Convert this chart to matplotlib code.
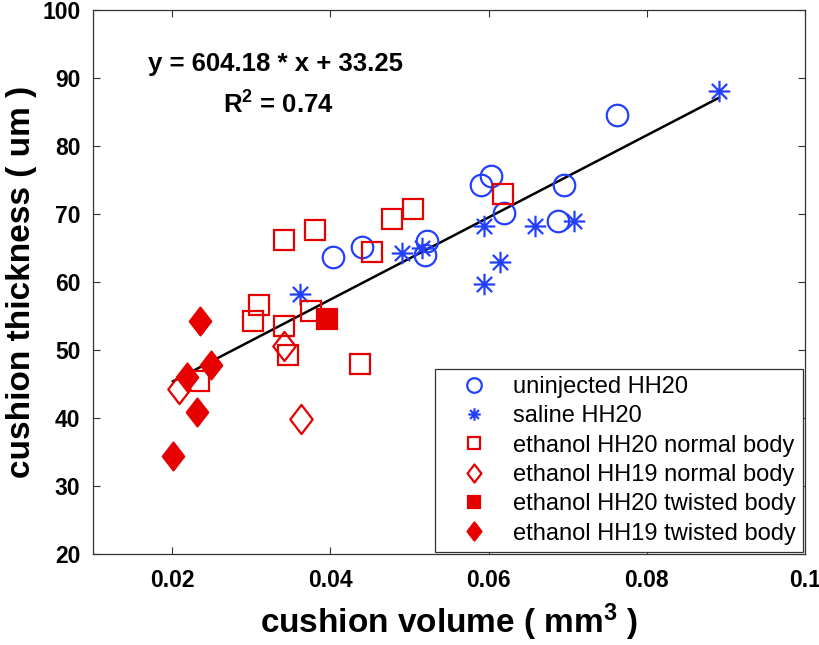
import matplotlib

matplotlib.use('Agg')
import matplotlib.pyplot as plt
import numpy as np
from matplotlib.lines import Line2D
from matplotlib.path import Path

# values
uninj_x = [0.0403, 0.0440, 0.0522, 0.0520, 0.0590, 0.0603, 0.0620, 0.0688, 0.0695, 0.0762]
uninj_y = [63.7, 65.2, 66.1, 63.9, 74.3, 75.6, 70.1, 68.9, 74.2, 84.5]

saline_x = [0.0362, 0.0490, 0.0516, 0.0594, 0.0594, 0.0614, 0.0658, 0.0708, 0.0891]
saline_y = [58.2, 64.2, 65.0, 68.2, 59.7, 62.9, 68.2, 68.9, 88.1]

eth20n_x = [0.0234, 0.0302, 0.0310, 0.0341, 0.0342, 0.0347, 0.0375, 0.0381,
            0.0437, 0.0452, 0.0478, 0.0504, 0.0618]
eth20n_y = [45.5, 54.3, 56.6, 53.5, 66.2, 49.3, 55.8, 67.6, 48.0, 64.4, 69.3, 70.7, 72.9]

eth19n_x = [0.0209, 0.0341, 0.0363]
eth19n_y = [44.3, 50.6, 39.9]

eth20t_x = [0.0396]
eth20t_y = [54.5]

eth19t_x = [0.0201, 0.0219, 0.0232, 0.0235, 0.0249]
eth19t_y = [34.4, 46.0, 40.9, 54.3, 47.8]

SLOPE, INTERCEPT = 604.18, 33.25
R2 = 0.74

BLUE = '#2340ff'
RED = '#e60000'
INK = '#333333'

plt.rcParams['font.family'] = ['Liberation Sans', 'DejaVu Sans']
plt.rcParams['mathtext.fontset'] = 'custom'
plt.rcParams['mathtext.rm'] = 'Liberation Sans:bold'
plt.rcParams['mathtext.it'] = 'Liberation Sans:bold'
plt.rcParams['mathtext.bf'] = 'Liberation Sans:bold'

# MATLAB-like markers: taller-than-wide diamond, 8-spoke asterisk
DIAMOND = Path([(0, 1), (0.77, 0), (0, -1), (-0.77, 0), (0, 1)],
               [Path.MOVETO, Path.LINETO, Path.LINETO, Path.LINETO, Path.CLOSEPOLY])
a = np.sqrt(0.5)
STAR = Path([(0, -1), (0, 1), (-1, 0), (1, 0), (-a, -a), (a, a), (-a, a), (a, -a)],
            [Path.MOVETO, Path.LINETO] * 4)

fig = plt.figure(figsize=(8.19, 6.45), dpi=100)
ax = fig.add_axes([0.1136, 0.1411, 0.8694, 0.8434])

mk = dict(linestyle='none', markeredgewidth=1.6)
ax.plot(uninj_x, uninj_y, marker='o', ms=15.5, mec=BLUE, mfc='none', **mk)
ax.plot(saline_x, saline_y, marker=STAR, ms=15.5, mec=BLUE, mfc='none', **mk)
ax.plot(eth20n_x, eth20n_y, marker='s', ms=14, mec=RED, mfc='none', **mk)
ax.plot(eth19n_x, eth19n_y, marker=DIAMOND, ms=21, mec=RED, mfc='none', **mk)
ax.plot(eth20t_x, eth20t_y, marker='s', ms=14, mec=RED, mfc=RED, **mk)
ax.plot(eth19t_x, eth19t_y, marker=DIAMOND, ms=20, mec=RED, mfc=RED, **mk)

all_x = np.concatenate([uninj_x, saline_x, eth20n_x, eth19n_x, eth20t_x, eth19t_x])
xl = np.array([all_x.min(), all_x.max()])
ax.plot(xl, SLOPE * xl + INTERCEPT, color='k', lw=1.8, zorder=1)

ax.text(0.0330, 92.1, f'y = {SLOPE:.2f} * x + {INTERCEPT:.2f}', ha='center', va='center',
        fontsize=18.5, fontweight='bold')
ax.text(0.0334, 86.0, f'R$^2$ = {R2:.2f}', ha='center', va='center',
        fontsize=18.5, fontweight='bold')

ax.set_xlim(0.01, 0.1)
ax.set_ylim(20, 100)
ax.set_xticks([0.02, 0.04, 0.06, 0.08, 0.1])
ax.set_xticklabels(['0.02', '0.04', '0.06', '0.08', '0.1'])
ax.set_yticks(range(20, 101, 10))
ax.tick_params(direction='in', length=5, width=0.8, top=True, right=True,
               labelsize=16.5, color=INK)
ax.tick_params(axis='x', pad=11)
ax.tick_params(axis='y', pad=9)
for lab in ax.get_xticklabels() + ax.get_yticklabels():
    lab.set_fontweight('bold')
for sp in ax.spines.values():
    sp.set_color(INK)
    sp.set_linewidth(0.9)

ax.set_xlabel('cushion volume ( mm$^3$ )', fontsize=24, fontweight='bold', labelpad=7)
ax.set_ylabel('cushion thickness ( um )', fontsize=24, fontweight='bold', labelpad=4)

handles = [
    Line2D([], [], marker='o', ms=10.5, mec=BLUE, mfc='none', **mk),
    Line2D([], [], marker=STAR, ms=9, mec=BLUE, mfc='none', **mk),
    Line2D([], [], marker='s', ms=8.5, mec=RED, mfc='none', **mk),
    Line2D([], [], marker=DIAMOND, ms=13, mec=RED, mfc='none', **mk),
    Line2D([], [], marker='s', ms=8, mec=RED, mfc=RED, **mk),
    Line2D([], [], marker=DIAMOND, ms=13, mec=RED, mfc=RED, **mk),
]
labels = ['uninjected HH20', 'saline HH20', 'ethanol HH20 normal body',
          'ethanol HH19 normal body', 'ethanol HH20 twisted body',
          'ethanol HH19 twisted body']
leg = ax.legend(handles, labels, loc='lower right', fontsize=17, frameon=True,
                fancybox=False, framealpha=1, edgecolor=INK,
                borderaxespad=0.1, handlelength=2.7, labelspacing=0.31,
                handletextpad=0.3, borderpad=0.3)
leg.get_frame().set_linewidth(0.9)

fig.savefig('out.png', dpi=100)
